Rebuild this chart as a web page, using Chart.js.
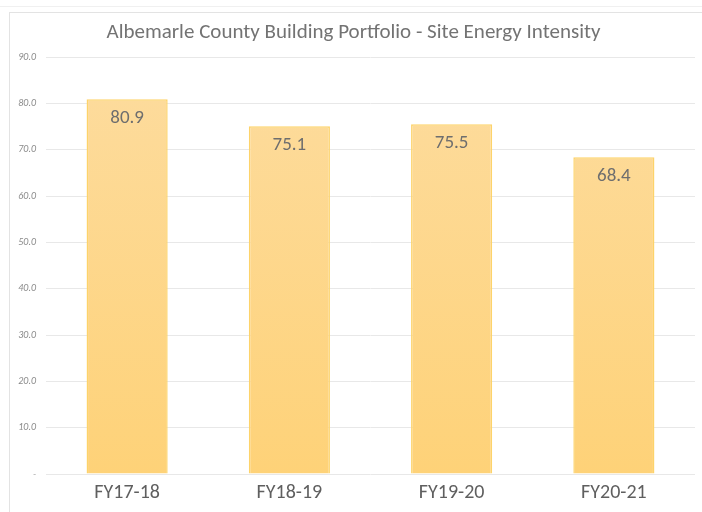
<!DOCTYPE html>
<html>
<head>
<meta charset="utf-8">
<script src="https://cdn.jsdelivr.net/npm/chart.js@4"></script>
<style>
  html, body { margin: 0; padding: 0; background: #fff; }
  #wrap { position: relative; width: 702px; height: 512px; }
  #frame { position: absolute; left: 9px; top: 12px; right: 0; bottom: 0; border-left: 1px solid #e3e3e3; border-top: 1px solid #e3e3e3; }
  #topline { position: absolute; left: 0; top: 6px; right: 0; border-top: 1px solid #f0f0f0; }
  canvas { position: absolute; left: 0; top: 0; }
</style>
</head>
<body>
<div id="wrap">
  <div id="topline"></div>
  <div id="frame"></div>
  <canvas id="eui" width="702" height="512"></canvas>
</div>
<script>
'use strict';

var fiscalYears = ['FY17-18', 'FY18-19', 'FY19-20', 'FY20-21'];
var siteEnergyIntensity = [80.9, 75.1, 75.5, 68.4];
var chartTitle = 'Albemarle County Building Portfolio - Site Energy Intensity';

// write each value just under the top of its bar
var barValueLabels = {
  id: 'barValueLabels',
  afterDatasetsDraw: function(chart) {
    var ctx = chart.ctx;
    var meta = chart.getDatasetMeta(0);
    ctx.save();
    ctx.font = '19px Calibri, Carlito, "Open Sans", sans-serif';
    ctx.fillStyle = '#6e6e6e';
    ctx.textAlign = 'center';
    ctx.textBaseline = 'middle';
    meta.data.forEach(function(bar, i) {
      ctx.fillText(siteEnergyIntensity[i].toFixed(1), bar.x, bar.y + 19);
    });
    ctx.restore();
  }
};

function barFill(context) {
  var area = context.chart.chartArea;
  if (!area) return '#fdd688';
  var g = context.chart.ctx.createLinearGradient(0, area.top, 0, area.bottom);
  g.addColorStop(0, '#fddc9f');
  g.addColorStop(1, '#fed278');
  return g;
}

var ctx = document.getElementById('eui').getContext('2d');
var euiChart = new Chart(ctx, {
  type: 'bar',
  data: {
    labels: fiscalYears,
    datasets: [{
      data: siteEnergyIntensity,
      backgroundColor: barFill,
      borderColor: '#fdd36a',
      borderWidth: 1.5,
      categoryPercentage: 1.0,
      barPercentage: 0.5
    }]
  },
  options: {
    responsive: false,
    animation: false,
    layout: { padding: { left: 12, right: 7, bottom: 0 } },
    plugins: {
      legend: { display: false },
      tooltip: { enabled: false },
      title: {
        display: true,
        text: chartTitle,
        color: '#737373',
        font: { size: 21, weight: 'normal', family: 'Calibri, Carlito, "Open Sans", sans-serif' },
        padding: { top: 20, bottom: 12 }
      }
    },
    scales: {
      x: {
        grid: { display: false, drawTicks: false },
        border: { display: false },
        ticks: {
          color: '#5f5f5f',
          padding: 7,
          font: { size: 20, family: 'Calibri, Carlito, "Open Sans", sans-serif' }
        }
      },
      y: {
        min: 0,
        max: 90,
        afterFit: function(scale) { scale.width = 34; },
        border: { display: false },
        grid: { color: '#e8e8e8', drawTicks: false },
        ticks: {
          stepSize: 10,
          padding: 10,
          color: '#8a8a8a',
          font: { size: 10, style: 'italic', family: 'Calibri, Carlito, "Open Sans", sans-serif' },
          callback: function(v) { return v === 0 ? '-' : v.toFixed(1); }
        }
      }
    }
  },
  plugins: [barValueLabels]
});
</script>
</body>
</html>
